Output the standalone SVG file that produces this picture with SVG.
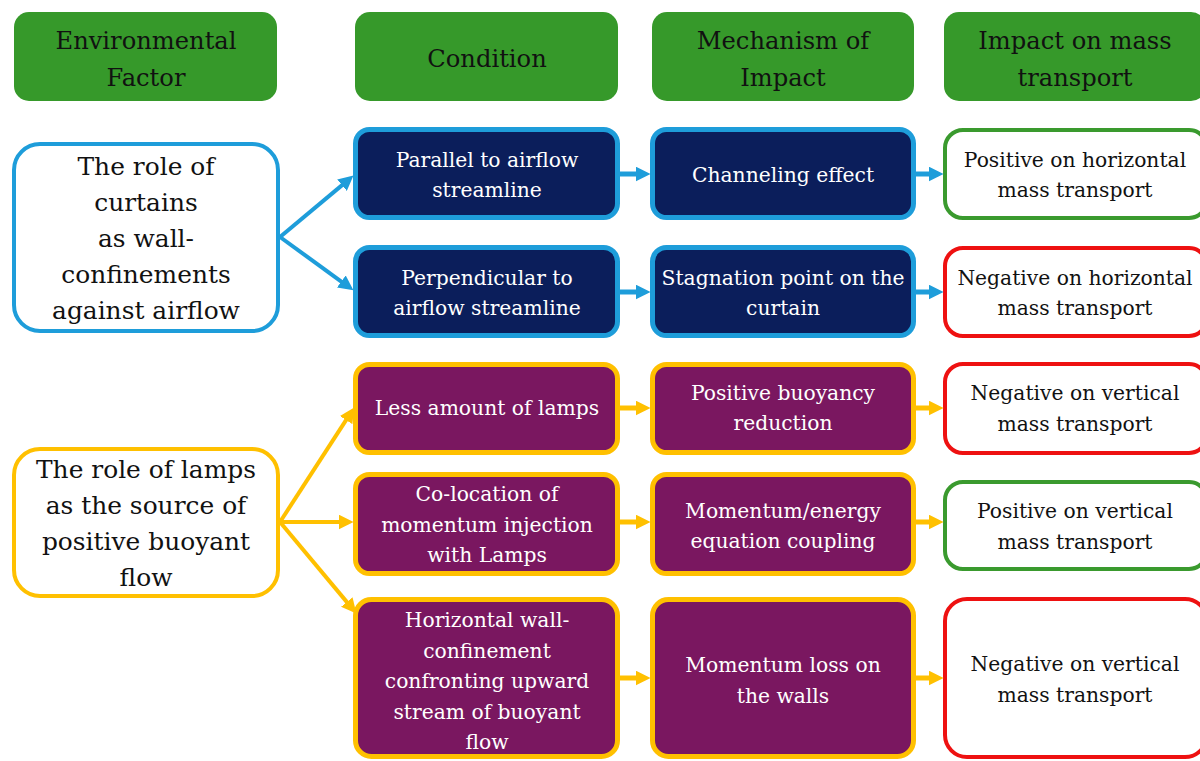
<svg xmlns="http://www.w3.org/2000/svg" width="1200" height="761" viewBox="0 0 1200 761">
<defs>
<style>
text{font-family:'DejaVu Serif','Liberation Serif','Times New Roman',serif;text-anchor:middle}
.hdr{fill:#36992A}
.ht{font-size:24.2px;fill:#111}
.lt{font-size:24.9px;fill:#111}
.bt{font-size:20.3px;fill:#fff}
.it{font-size:20.3px;fill:#111}
.blue{fill:#0B1E5B;stroke:#1E9DDA;stroke-width:5}
.purp{fill:#7A1760;stroke:#FFC000;stroke-width:5}
.pos{fill:#fff;stroke:#3A9A2E;stroke-width:4}
.neg{fill:#fff;stroke:#EE1111;stroke-width:4}
.lb{fill:#fff;stroke:#1E9DDA;stroke-width:4}
.lo{fill:#fff;stroke:#FFC000;stroke-width:4}
.cb{stroke:#1E9DDA;fill:none}
.co{stroke:#FFC000;fill:none}
</style>
<marker id="mb" viewBox="0 0 14 14" markerUnits="userSpaceOnUse" markerWidth="15" markerHeight="15" refX="6" refY="7" orient="auto"><path d="M0,0 L14,7 L0,14 z" fill="#1E9DDA"/></marker>
<marker id="mo" viewBox="0 0 14 14" markerUnits="userSpaceOnUse" markerWidth="15" markerHeight="15" refX="6" refY="7" orient="auto"><path d="M0,0 L14,7 L0,14 z" fill="#FFC000"/></marker>
</defs>
<rect width="1200" height="761" fill="#fff"/>
<g id="h1"><rect class="hdr" x="14" y="12" width="263" height="89" rx="15"/><text class="ht" x="146" y="49">Environmental</text><text class="ht" x="146" y="86">Factor</text></g>
<g id="h2"><rect class="hdr" x="355" y="12" width="263" height="89" rx="15"/><text class="ht" x="487" y="67">Condition</text></g>
<g id="h3"><rect class="hdr" x="652" y="12" width="262" height="89" rx="15"/><text class="ht" x="783" y="49">Mechanism of</text><text class="ht" x="783" y="86">Impact</text></g>
<g id="h4"><rect class="hdr" x="944" y="12" width="262" height="89" rx="15"/><text class="ht" x="1075" y="49">Impact on mass</text><text class="ht" x="1075" y="86">transport</text></g>

<g id="curtains"><rect class="lb" x="14" y="144" width="264" height="187" rx="26"/>
<text class="lt" x="146" y="175">The role of</text><text class="lt" x="146" y="211">curtains</text><text class="lt" x="146" y="247">as wall-</text><text class="lt" x="146" y="283">confinements</text><text class="lt" x="146" y="319">against airflow</text></g>

<g id="lamps"><rect class="lo" x="14" y="449" width="264" height="147" rx="26"/>
<text class="lt" x="146" y="478">The role of lamps</text><text class="lt" x="146" y="514">as the source of</text><text class="lt" x="146" y="550">positive buoyant</text><text class="lt" x="146" y="586">flow</text></g>

<g id="c1"><rect class="blue" x="355.5" y="129.5" width="262" height="88" rx="14"/><text class="bt" x="487" y="167">Parallel to airflow</text><text class="bt" x="487" y="197">streamline</text></g>
<g id="c2"><rect class="blue" x="355.5" y="247.5" width="262" height="88" rx="14"/><text class="bt" x="487" y="285">Perpendicular to</text><text class="bt" x="487" y="315">airflow streamline</text></g>
<g id="c3"><rect class="purp" x="355.5" y="364.5" width="262" height="88" rx="14"/><text class="bt" x="487" y="415">Less amount of lamps</text></g>
<g id="c4"><rect class="purp" x="355.5" y="474.5" width="262" height="99" rx="14"/><text class="bt" x="487" y="501">Co-location of</text><text class="bt" x="487" y="532">momentum injection</text><text class="bt" x="487" y="562">with Lamps</text></g>
<g id="c5"><rect class="purp" x="355.5" y="599.5" width="262" height="157" rx="16"/><text class="bt" x="487" y="627">Horizontal wall-</text><text class="bt" x="487" y="658">confinement</text><text class="bt" x="487" y="688">confronting upward</text><text class="bt" x="487" y="719">stream of buoyant</text><text class="bt" x="487" y="749">flow</text></g>

<g id="m1"><rect class="blue" x="652.5" y="129.5" width="261" height="88" rx="14"/><text class="bt" x="783" y="182">Channeling effect</text></g>
<g id="m2"><rect class="blue" x="652.5" y="247.5" width="261" height="88" rx="14"/><text class="bt" x="783" y="285">Stagnation point on the</text><text class="bt" x="783" y="315">curtain</text></g>
<g id="m3"><rect class="purp" x="652.5" y="364.5" width="261" height="88" rx="14"/><text class="bt" x="783" y="400">Positive buoyancy</text><text class="bt" x="783" y="430">reduction</text></g>
<g id="m4"><rect class="purp" x="652.5" y="474.5" width="261" height="99" rx="14"/><text class="bt" x="783" y="518">Momentum/energy</text><text class="bt" x="783" y="548">equation coupling</text></g>
<g id="m5"><rect class="purp" x="652.5" y="599.5" width="261" height="157" rx="16"/><text class="bt" x="783" y="672">Momentum loss on</text><text class="bt" x="783" y="703">the walls</text></g>

<g id="i1"><rect class="pos" x="945" y="130" width="262" height="88" rx="18"/><text class="it" x="1075" y="167">Positive on horizontal</text><text class="it" x="1075" y="197">mass transport</text></g>
<g id="i2"><rect class="neg" x="945" y="248" width="262" height="88" rx="18"/><text class="it" x="1075" y="285">Negative on horizontal</text><text class="it" x="1075" y="315">mass transport</text></g>
<g id="i3"><rect class="neg" x="945" y="364" width="262" height="89" rx="18"/><text class="it" x="1075" y="400">Negative on vertical</text><text class="it" x="1075" y="431">mass transport</text></g>
<g id="i4"><rect class="pos" x="945" y="482" width="262" height="87" rx="18"/><text class="it" x="1075" y="518">Positive on vertical</text><text class="it" x="1075" y="549">mass transport</text></g>
<g id="i5"><rect class="neg" x="945" y="599" width="262" height="158" rx="22"/><text class="it" x="1075" y="671">Negative on vertical</text><text class="it" x="1075" y="702">mass transport</text></g>

<g id="connectors">
<line class="cb" stroke-width="4" x1="280" y1="237" x2="346.9" y2="181.1" marker-end="url(#mb)"/>
<line class="cb" stroke-width="4" x1="280" y1="237" x2="346.5" y2="285.3" marker-end="url(#mb)"/>
<line class="co" stroke-width="4" x1="280" y1="522" x2="349.6" y2="414.7" marker-end="url(#mo)"/>
<line class="co" stroke-width="4" x1="280" y1="522" x2="345" y2="522" marker-end="url(#mo)"/>
<line class="co" stroke-width="4" x1="280" y1="522" x2="350.9" y2="606.9" marker-end="url(#mo)"/>
<line class="cb" stroke-width="5" x1="620" y1="174" x2="642" y2="174" marker-end="url(#mb)"/>
<line class="cb" stroke-width="5" x1="620" y1="292" x2="642" y2="292" marker-end="url(#mb)"/>
<line class="co" stroke-width="5" x1="620" y1="408" x2="642" y2="408" marker-end="url(#mo)"/>
<line class="co" stroke-width="5" x1="620" y1="522" x2="642" y2="522" marker-end="url(#mo)"/>
<line class="co" stroke-width="5" x1="620" y1="678" x2="642" y2="678" marker-end="url(#mo)"/>
<line class="cb" stroke-width="5" x1="916" y1="174" x2="935" y2="174" marker-end="url(#mb)"/>
<line class="cb" stroke-width="5" x1="916" y1="292" x2="935" y2="292" marker-end="url(#mb)"/>
<line class="co" stroke-width="5" x1="916" y1="408" x2="935" y2="408" marker-end="url(#mo)"/>
<line class="co" stroke-width="5" x1="916" y1="522" x2="935" y2="522" marker-end="url(#mo)"/>
<line class="co" stroke-width="5" x1="916" y1="678" x2="935" y2="678" marker-end="url(#mo)"/>
</g>
</svg>
